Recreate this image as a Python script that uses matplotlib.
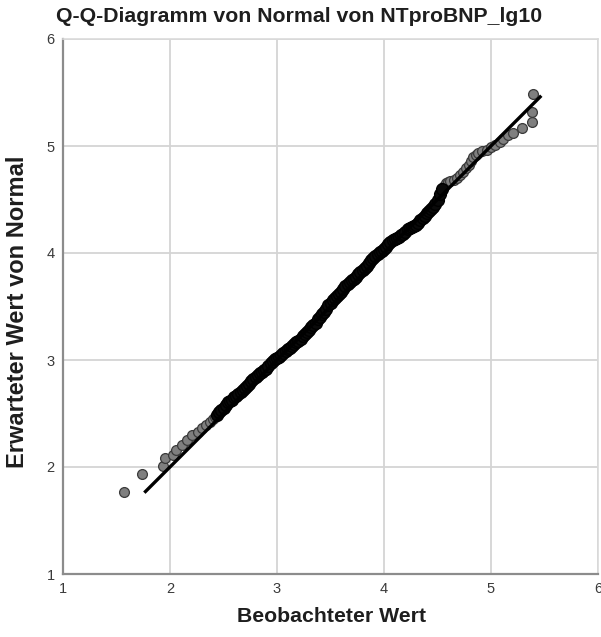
import matplotlib
matplotlib.use("Agg")
import matplotlib.pyplot as plt

plt.rcParams['font.family'] = ['Liberation Sans', 'DejaVu Sans']

title = "Q-Q-Diagramm von Normal von NTproBNP_lg10"
xlabel = "Beobachteter Wert"
ylabel = "Erwarteter Wert von Normal"
ticks = [1, 2, 3, 4, 5, 6]

# lower tail (sparse points)
obs_low = [1.57, 1.74, 1.93, 1.95, 2.03, 2.06, 2.11, 2.16, 2.21, 2.26, 2.30, 2.34, 2.37, 2.40, 2.42]
exp_low = [1.77, 1.93, 2.01, 2.08, 2.11, 2.16, 2.21, 2.25, 2.30, 2.33, 2.36, 2.39, 2.42, 2.45, 2.47]

# dense central band
obs_mid = [2.44, 2.46, 2.48, 2.50, 2.52, 2.54, 2.56, 2.58, 2.60, 2.62, 2.64, 2.66, 2.68, 2.70,
           2.72, 2.74, 2.76, 2.78, 2.80, 2.82, 2.84, 2.86, 2.88, 2.90, 2.92, 2.94, 2.96, 2.98,
           3.00, 3.02, 3.04, 3.06, 3.08, 3.10, 3.12, 3.14, 3.16, 3.18, 3.20, 3.22, 3.24, 3.26,
           3.28, 3.30, 3.32, 3.34, 3.36, 3.38, 3.40, 3.42, 3.44, 3.46, 3.48, 3.50, 3.52, 3.54,
           3.56, 3.58, 3.60, 3.62, 3.64, 3.66, 3.68, 3.70, 3.72, 3.74, 3.76, 3.78, 3.80, 3.82,
           3.84, 3.86, 3.88, 3.90, 3.92, 3.94, 3.96, 3.98, 4.00, 4.02, 4.04, 4.06, 4.08, 4.10,
           4.12, 4.14, 4.16, 4.18, 4.20, 4.22, 4.24, 4.26, 4.28, 4.30, 4.32, 4.34, 4.36, 4.38,
           4.40, 4.42, 4.44, 4.46, 4.48, 4.50, 4.52, 4.54]
exp_mid = [2.49, 2.51, 2.53, 2.55, 2.58, 2.61, 2.62, 2.63, 2.65, 2.66, 2.68, 2.70, 2.72, 2.74,
           2.76, 2.78, 2.80, 2.82, 2.84, 2.86, 2.88, 2.89, 2.91, 2.92, 2.94, 2.97, 2.99, 3.01,
           3.02, 3.03, 3.05, 3.07, 3.08, 3.10, 3.11, 3.13, 3.15, 3.17, 3.18, 3.20, 3.22, 3.24,
           3.26, 3.28, 3.31, 3.33, 3.35, 3.38, 3.40, 3.43, 3.45, 3.48, 3.51, 3.53, 3.56, 3.58,
           3.60, 3.62, 3.64, 3.66, 3.69, 3.71, 3.73, 3.75, 3.76, 3.78, 3.80, 3.82, 3.84, 3.86,
           3.88, 3.91, 3.93, 3.95, 3.97, 3.99, 4.01, 4.02, 4.04, 4.06, 4.08, 4.10, 4.12, 4.13,
           4.14, 4.15, 4.17, 4.18, 4.20, 4.22, 4.23, 4.24, 4.25, 4.26, 4.28, 4.31, 4.33, 4.35,
           4.37, 4.39, 4.41, 4.43, 4.46, 4.50, 4.55, 4.60]

# upper tail (sparser points)
obs_high = [4.56, 4.58, 4.60, 4.62, 4.65, 4.68, 4.71, 4.74, 4.77, 4.79, 4.81, 4.83, 4.86, 4.88,
            4.92, 4.96, 5.00, 5.04, 5.08, 5.11, 5.16, 5.21, 5.29, 5.38, 5.38, 5.39]
exp_high = [4.63, 4.65, 4.66, 4.67, 4.68, 4.70, 4.73, 4.76, 4.79, 4.82, 4.86, 4.90, 4.92, 4.93,
            4.95, 4.96, 4.99, 5.01, 5.04, 5.07, 5.10, 5.12, 5.17, 5.22, 5.32, 5.49]

# reference line endpoints
line_x = [1.76, 5.47]
line_y = [1.76, 5.47]

fig = plt.figure(figsize=(6.01, 6.37), dpi=100)
ax = fig.add_axes([63/601, 1 - 574/637, (598-63)/601, (574-39)/637])

ax.set_xlim(1, 6)
ax.set_ylim(1, 6)
ax.set_xticks(ticks)
ax.set_yticks(ticks)
ax.set_xticklabels([str(t) for t in ticks])
ax.set_yticklabels([str(t) for t in ticks])

ax.grid(True, color='#d4d4d4', linewidth=1.3, zorder=0)
ax.set_axisbelow(True)

for s in ['left', 'bottom']:
    ax.spines[s].set_color('#8c8c8c')
    ax.spines[s].set_linewidth(1.6)
for s in ['top', 'right']:
    ax.spines[s].set_color('#dadada')
    ax.spines[s].set_linewidth(1.2)

ax.tick_params(length=0, labelsize=10.5, colors='#3a3a3a', pad=6)

# sparse tails: gray markers
ax.scatter(obs_low, exp_low, s=50, facecolor='#7f7f7f', edgecolor='#3a3a3a', linewidths=0.9, zorder=3)
ax.scatter(obs_high, exp_high, s=50, facecolor='#7f7f7f', edgecolor='#3a3a3a', linewidths=0.9, zorder=3)
# dense band: heavily overlapping markers appear black
ax.scatter(obs_mid, exp_mid, s=72, facecolor='#0a0a0a', edgecolor='#000000', linewidths=1.0, zorder=3)
ax.plot(line_x, line_y, color='black', linewidth=2.4, solid_capstyle='butt', zorder=4)

fig.text(299/601, 1 - 17/637, title, ha='center', va='center', fontsize=15.3, fontweight='bold', color='#1e1e1e')
fig.text(332/601, 1 - 616/637, xlabel, ha='center', va='center', fontsize=15.3, fontweight='bold', color='#1e1e1e')
fig.text(18/601, 1 - 312/637, ylabel, ha='center', va='center', rotation=90, fontsize=17, fontweight='bold', color='#1e1e1e')

fig.savefig('out.png', dpi=100, facecolor='white')
